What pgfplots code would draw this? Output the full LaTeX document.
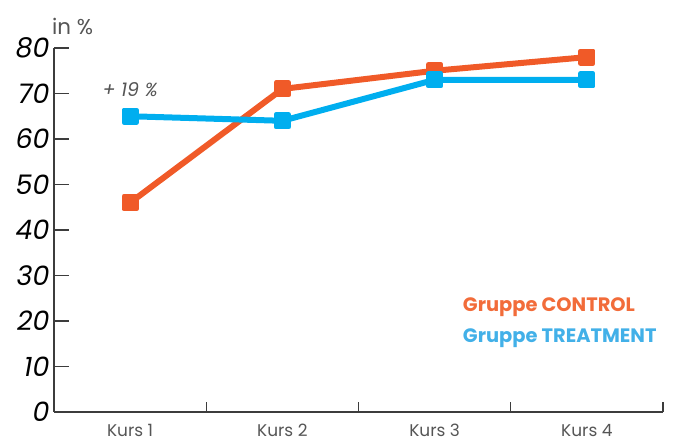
\documentclass[border=0pt]{standalone}
\usepackage{fontspec}
\setmainfont{Poppins}
\usepackage{pgfplots}
\pgfplotsset{compat=1.18}
\definecolor{ctrl}{RGB}{240,90,40}
\definecolor{treat}{RGB}{0,174,239}
\definecolor{ctrltxt}{RGB}{242,108,58}
\definecolor{treattxt}{RGB}{66,176,232}
\definecolor{axisgray}{RGB}{60,60,60}
\definecolor{lblgray}{RGB}{85,85,85}
\begin{document}
\begin{tikzpicture}
\begin{axis}[
  scale only axis,
  width=609bp, height=364bp,
  xmin=-0.5, xmax=3.5, ymin=0, ymax=80,
  axis lines=left,
  axis line style={-, line width=1.3bp, color=axisgray},
  xtick={0,1,2,3},
  xticklabels={Kurs 1, Kurs 2, Kurs 3, Kurs 4},
  minor xtick={0.5,1.5,2.5,3.5},
  major x tick style={draw=none},
  minor x tick style={line width=1.3bp, color=axisgray},
  minor tick length=10bp,
  ytick={0,10,...,80},
  major y tick style={line width=1.3bp, color=axisgray},
  major tick length=15bp,
  tick align=inside,
  xticklabel style={font=\fontsize{17}{17}\selectfont, text=lblgray, yshift=-9bp},
  yticklabel style={font=\fontsize{27}{27}\selectfont\itshape, text=black, xshift=-1bp},
  /pgf/number format/assume math mode=true,
  clip=false,
  legend style={at={(rel axis cs:0.663,0.325)}, anchor=north west, draw=none, fill=none,
    font=\fontsize{19.5}{19.5}\selectfont\bfseries, row sep=12bp},
  legend cell align=left,
  legend image code/.code={},
]
\addplot[ctrl, line width=6bp, mark=square*, mark size=6.3bp,
  mark options={line width=4.5bp, line join=round, fill=ctrl}]
  coordinates {(0,46) (1,71) (2,75) (3,78)};
\addlegendentry{\textcolor{ctrltxt}{Gruppe CONTROL}}
\addplot[treat, line width=6bp, mark=square*, mark size=6.3bp,
  mark options={line width=4.5bp, line join=round, fill=treat}]
  coordinates {(0,65) (1,64) (2,73) (3,73)};
\addlegendentry{\textcolor{treattxt}{Gruppe TREATMENT}}
\node[anchor=south west, text=lblgray, font=\fontsize{21.5}{21.5}\selectfont, inner sep=0pt]
  at (axis cs:-0.5,80) [yshift=13bp,xshift=-2bp] {in \%};
\node[text=lblgray, font=\fontsize{19}{19}\selectfont\itshape]
  at (axis cs:0,70.8) {+ 19 \%};
\end{axis}
\path[use as bounding box] ([xshift=-54bp,yshift=-35bp]current axis.south west)
  rectangle ([xshift=10bp,yshift=48bp]current axis.north east);
\end{tikzpicture}
\end{document}
